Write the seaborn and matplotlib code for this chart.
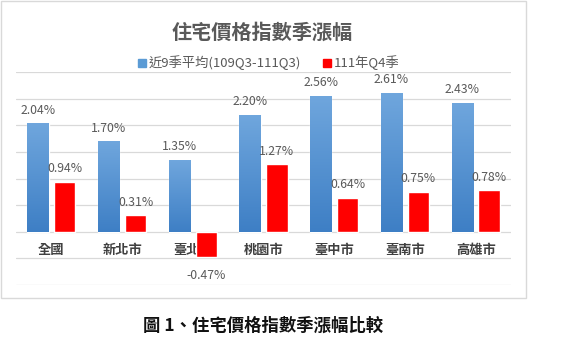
import numpy as np
import pandas as pd
import matplotlib
matplotlib.use("Agg")
import matplotlib.pyplot as plt
from matplotlib.patches import Rectangle
from matplotlib.colors import LinearSegmentedColormap
import seaborn as sns

# -----------------------------------------------------------------------------
# Data
# -----------------------------------------------------------------------------
CITIES = ["全國", "新北市", "臺北市", "桃園市", "臺中市", "臺南市", "高雄市"]
AVG_9Q = [2.04, 1.70, 1.35, 2.20, 2.56, 2.61, 2.43]
Q4_111 = [0.94, 0.31, -0.47, 1.27, 0.64, 0.75, 0.78]
SERIES = ["近9季平均(109Q3-111Q3)", "111年Q4季"]

TITLE = "住宅價格指數季漲幅"
CAPTION = "圖 1、住宅價格指數季漲幅比較"

# -----------------------------------------------------------------------------
# Style
# -----------------------------------------------------------------------------
BLUE = "#5B9BD5"
RED = "#FF0000"
GRID = "#D9D9D9"
TEXT_GRAY = "#595959"
LABEL_GRAY = "#404040"
FONTS = ["Noto Sans CJK TC", "DejaVu Sans"]

sns.set_theme(style="white")
plt.rcParams["font.family"] = FONTS

df = pd.DataFrame({"city": CITIES, SERIES[0]: AVG_9Q, SERIES[1]: Q4_111})
long_df = df.melt(id_vars="city", var_name="series", value_name="value")

fig = plt.figure(figsize=(5.67, 3.51), dpi=100)
ax = fig.add_axes([16 / 567, 66 / 351, 495 / 567, 212.7 / 351])

sns.barplot(
    data=long_df, x="city", y="value", hue="series",
    palette=[BLUE, RED], saturation=1, width=0.76, gap=0.21,
    order=CITIES, hue_order=SERIES, ax=ax, legend=False, zorder=2,
)

ax.set_xlim(-0.5, 6.5)
ax.set_ylim(-1.0, 3.0)
ax.set_yticks(np.arange(-1.0, 3.01, 0.5))
ax.yaxis.grid(True, color=GRID, linewidth=0.9, zorder=0)
ax.set_axisbelow(True)
ax.set_xticks([])
ax.set_yticklabels([])
ax.tick_params(left=False, bottom=False)
ax.set_xlabel("")
ax.set_ylabel("")
for sp in ax.spines.values():
    sp.set_visible(False)
ax.set_facecolor("none")

# vertical gradient on the blue bars
grad = LinearSegmentedColormap.from_list("bl", ["#3E7FC5", "#6FA6DD"])
for bar in ax.containers[0]:
    x0, y0 = bar.get_x(), bar.get_y()
    w, h = bar.get_width(), bar.get_height()
    img = ax.imshow(
        np.linspace(0, 1, 64).reshape(-1, 1), cmap=grad, aspect="auto",
        extent=(x0, x0 + w, y0, y0 + h), origin="lower", zorder=2.1,
    )
    img.set_clip_path(bar)
ax.set_xlim(-0.5, 6.5)
ax.set_ylim(-1.0, 3.0)

# value labels
for cont in ax.containers:
    for bar in cont:
        v = bar.get_y() + bar.get_height() if bar.get_y() >= 0 else bar.get_y()
        xc = bar.get_x() + bar.get_width() / 2
        off = 9.5 if v >= 0 else -13.5
        ax.annotate(f"{v:.2f}%", (xc, v), xytext=(0, off), textcoords="offset points",
                    ha="center", va="center", fontsize=8.8, color=TEXT_GRAY, zorder=3)

# category labels just below the zero line
for i, c in enumerate(CITIES):
    ax.annotate(c, (i, 0), xytext=(0, -13), textcoords="offset points",
                ha="center", va="center", fontsize=9.5, fontweight="bold",
                color=LABEL_GRAY, zorder=1)

# legend
handles = [plt.Line2D([], [], marker="s", linestyle="", markersize=6,
                      markerfacecolor=col, markeredgecolor=col)
           for col in [BLUE, RED]]
fig.legend(handles, SERIES, loc="center", bbox_to_anchor=(0.473, 1 - 63 / 351),
           ncol=2, frameon=False, fontsize=9.5, handletextpad=0.1,
           columnspacing=1.6, labelcolor=TEXT_GRAY, handlelength=0.8)

fig.text(262 / 567, 1 - 32 / 351, TITLE, ha="center", va="center",
         fontsize=14.5, fontweight="bold", color=TEXT_GRAY)

# chart frame and caption
fig.patches.append(Rectangle((1 / 567, 53 / 351), 525 / 567, 297 / 351,
                             transform=fig.transFigure, fill=False,
                             edgecolor=GRID, linewidth=1.0))
fig.text(263 / 567, 1 - 326 / 351, CAPTION, ha="center", va="center",
         fontsize=12.5, fontweight="bold", color="#111111")

fig.savefig("out.png", dpi=100)
